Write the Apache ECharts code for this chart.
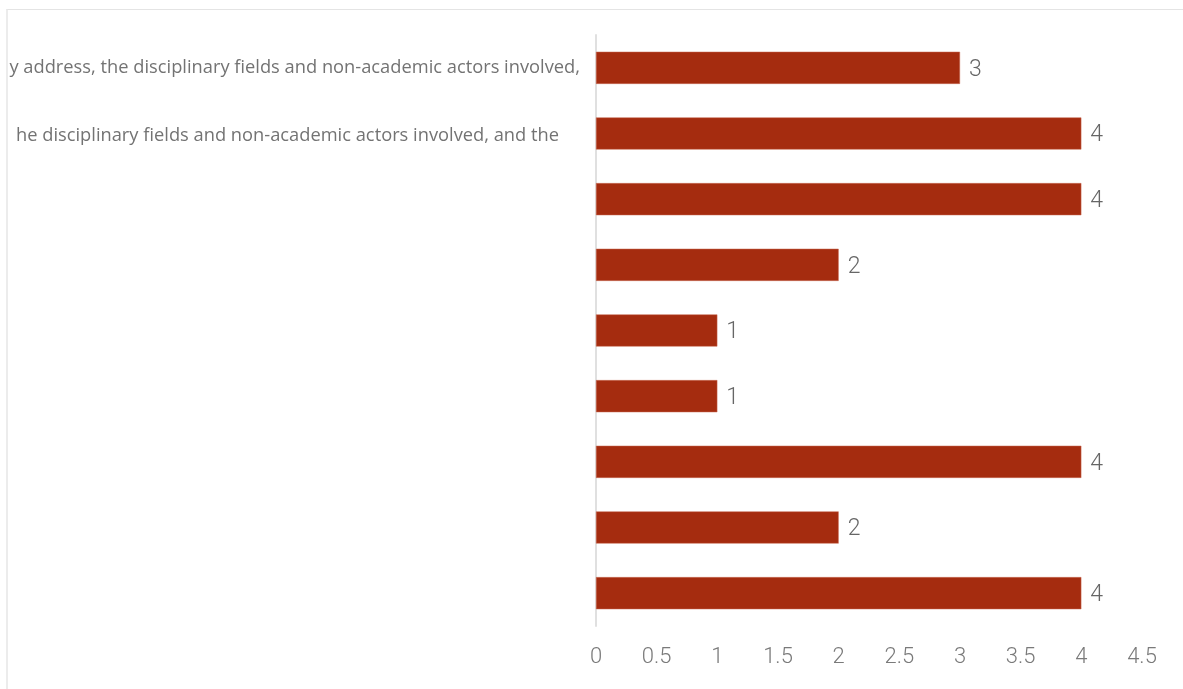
<!DOCTYPE html>
<html>
<head>
<meta charset="utf-8">
<script src="https://cdn.jsdelivr.net/npm/echarts@6/dist/echarts.min.js"></script>
<style>
  body { margin: 0; background: #fff; }
  #frame { position: absolute; left: 6px; top: 9px; right: 0; bottom: 0; border-top: 1px solid #e4e4e4; border-left: 2px solid #ececec; pointer-events: none; }
  #chart { position: absolute; left: 0; top: 0; width: 1183px; height: 689px; }
</style>
</head>
<body>
<div id="chart"></div>
<div id="frame"></div>
<script>
var categories = [
    'y address, the disciplinary fields and non-academic actors involved,',
    'he disciplinary fields and non-academic actors involved, and the',
    '', '', '', '', '', '', ''
];
var counts = [3, 4, 4, 2, 1, 1, 4, 2, 4];

var myChart = echarts.init(document.getElementById('chart'));
var option = {
    animation: false,
    grid: { left: 596, right: 41, top: 35, bottom: 63 },
    xAxis: {
        type: 'value',
        min: 0,
        max: 4.5,
        interval: 0.5,
        splitLine: { show: false },
        axisLine: { show: false },
        axisTick: { show: false },
        axisLabel: { color: '#7a7a7a', fontSize: 22, fontFamily: 'Roboto', fontWeight: 300, margin: 20 }
    },
    yAxis: {
        type: 'category',
        inverse: true,
        data: categories,
        axisLine: { show: true, lineStyle: { color: '#e0e0e0', width: 2 } },
        axisTick: { show: false },
        axisLabel: {
            color: '#737373',
            fontSize: 18.3,
            fontFamily: 'Open Sans',
            margin: 16,
            formatter: function (v, i) {
                return i === 1 ? '{p|' + v + '}' : v;
            },
            rich: { p: { color: '#737373', fontSize: 18.3, fontFamily: 'Open Sans', padding: [4, 21, 0, 0] } }
        }
    },
    series: [{
        type: 'bar',
        data: counts,
        barWidth: '49%',
        itemStyle: { color: '#a52c0f', borderColor: '#c96a55', borderWidth: 0.5 },
        label: {
            show: true,
            position: 'right',
            distance: 9,
            offset: [0, 2],
            color: '#666',
            fontSize: 23,
            fontFamily: 'Roboto',
            fontWeight: 300
        }
    }]
};
myChart.setOption(option);
</script>
</body>
</html>
